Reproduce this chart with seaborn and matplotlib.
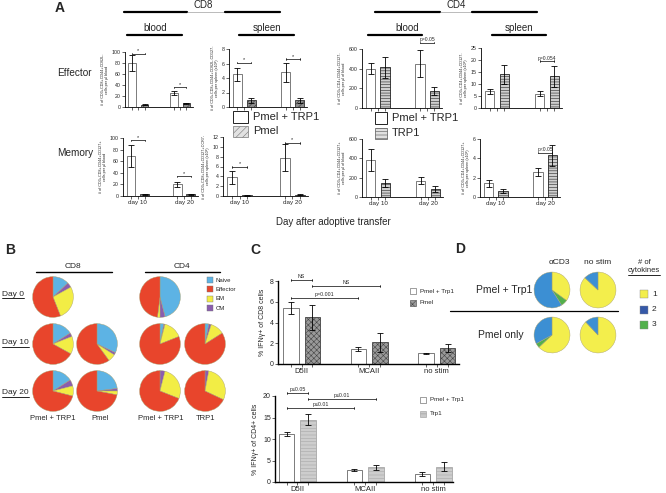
import numpy as np
import pandas as pd
import matplotlib
matplotlib.use('Agg')
import matplotlib.pyplot as plt
import seaborn as sns
from matplotlib.patches import Rectangle
from matplotlib.lines import Line2D

sns.set_style('ticks')
plt.rcParams['font.family'] = ['Liberation Sans', 'DejaVu Sans']
plt.rcParams['hatch.linewidth'] = 0.4

W, H = 666, 493
fig = plt.figure(figsize=(W / 100, H / 100), dpi=100)

# ---------------- data ----------------
days = ['day 10', 'day 20']
cd8_groups = ['Pmel + TRP1', 'Pmel']
cd4_groups = ['Pmel + TRP1', 'TRP1']

cd8_blood_eff = [80, 4, 26, 7]
cd8_blood_eff_err = [14, 1, 4, 1]
cd8_spleen_eff = [4.5, 0.9, 4.8, 0.9]
cd8_spleen_eff_err = [0.9, 0.4, 1.3, 0.3]
cd4_blood_eff = [400, 415, 450, 170]
cd4_blood_eff_err = [55, 105, 135, 40]
cd4_spleen_eff = [7, 14, 6, 13.2]
cd4_spleen_eff_err = [1, 3.8, 1, 4.3]

cd8_blood_mem = [69, 3, 20, 3]
cd8_blood_mem_err = [19, 1, 5, 1]
cd8_spleen_mem = [3.8, 0.2, 7.8, 0.3]
cd8_spleen_mem_err = [1.3, 0.1, 2.8, 0.1]
cd4_blood_mem = [380, 145, 170, 80]
cd4_blood_mem_err = [115, 40, 40, 30]
cd4_spleen_mem = [1.4, 0.6, 2.6, 4.3]
cd4_spleen_mem_err = [0.4, 0.2, 0.4, 1.1]

stims = ['D5II', 'MCAII', 'no stim']
c_cd8_groups = ['Pmel + Trp1', 'Pmel']
c_cd4_groups = ['Pmel + Trp1', 'Trp1']
ifng_cd8 = [5.4, 4.5, 1.45, 2.1, 1.05, 1.55]
ifng_cd8_err = [0.6, 1.2, 0.2, 0.9, 0.05, 0.4]
ifng_cd4 = [11.1, 14.5, 2.8, 3.4, 1.9, 3.6]
ifng_cd4_err = [0.5, 1.3, 0.3, 0.5, 0.4, 1.0]

subset_names = ['Naive', 'CM', 'EM', 'Effector']  # clockwise order from top
cd8_day0 = [13, 4, 27, 56]
cd4_day0 = [46, 4, 2, 48]
cd8_d10_pt = [16, 3, 14, 67]
cd8_d10_pmel = [32, 2, 6, 60]
cd4_d10_pt = [3, 1, 15, 81]
cd4_d10_trp1 = [3, 2, 11, 84]
cd8_d20_pt = [16, 5, 8, 71]
cd8_d20_pmel = [23, 2, 3, 72]
cd4_d20_pt = [0, 4, 27, 69]
cd4_d20_trp1 = [0, 3, 29, 68]

cytokine_names = ['1', '3', '2']  # clockwise order from top
d_pt_acd3 = [35, 6, 59]
d_pt_nostim = [87, 0, 13]
d_pmel_acd3 = [63, 4, 33]
d_pmel_nostim = [88, 0, 12]

# ---------------- helpers ----------------
def px_axes(l, t, r, b):
    return fig.add_axes([l / W, 1 - b / H, (r - l) / W, (b - t) / H])

def ftext(x, y, s, **kw):
    kw.setdefault('va', 'center')
    return fig.text(x / W, 1 - y / H, s, **kw)

def fline(x1, x2, y, lw=1.5, color='k'):
    fig.add_artist(Line2D([x1 / W, x2 / W], [1 - y / H] * 2, lw=lw, color=color,
                          transform=fig.transFigure))

def frect(x, y, w, h, fc, ec='k', lw=0.5, hatch=None):
    fig.add_artist(Rectangle((x / W, 1 - (y + h) / H), w / W, h / H,
                             transform=fig.transFigure, fc=fc, ec=ec, lw=lw, hatch=hatch))

underlined = []

white = dict(fc='white', ec='#666666', hatch=None)
pmel_a = dict(fc='#8c8c8c', ec='#333333', hatch='//////')
trp1_a = dict(fc='#cfcfcf', ec='#222222', hatch='------')
pmel_c = dict(fc='#9a9a9a', ec='#444444', hatch='xxxxxx')
trp1_c = dict(fc='#cdcdcd', ec='#a8a8a8', hatch='-----')


def draw_bars(ax, cats, groups, means, errs, styles, width, gap, xlim, ymax, yticks,
              labels_on, tfs, lfs, cap=2, axlw=0.6):
    n = len(cats)
    df = pd.DataFrame({'cat': np.repeat(cats, len(groups)),
                       'grp': list(groups) * n, 'val': means})
    sns.barplot(data=df, x='cat', y='val', hue='grp', order=cats, hue_order=groups,
                palette={g: 'white' for g in groups}, width=width, gap=gap,
                errorbar=None, legend=False, ax=ax)
    patches = sorted(ax.patches, key=lambda p: p.get_x())
    centers = []
    for i, p in enumerate(patches):
        st = styles[i % len(groups)]
        p.set_facecolor(st['fc'])
        p.set_edgecolor(st['ec'])
        p.set_hatch(st['hatch'])
        p.set_linewidth(0.6)
        cx = p.get_x() + p.get_width() / 2
        centers.append(cx)
        ax.errorbar(cx, means[i], yerr=errs[i], fmt='none', ecolor='k',
                    elinewidth=0.6, capsize=cap, capthick=0.6, zorder=5)
    ax.set_xlim(*xlim)
    ax.set_ylim(0, ymax)
    ax.set_yticks(yticks)
    ax.set_xticks(range(n))
    ax.set_xticklabels(cats if labels_on else [''] * n, fontsize=lfs)
    ax.set_xticks(centers, minor=True)
    ax.set_xlabel('')
    ax.set_ylabel('')
    for s in ['top', 'right']:
        ax.spines[s].set_visible(False)
    for s in ['left', 'bottom']:
        ax.spines[s].set_linewidth(axlw)
        ax.spines[s].set_color('k')
    ax.tick_params(axis='y', labelsize=tfs, length=2, width=0.5, pad=1)
    ax.tick_params(axis='x', which='both', length=2, width=0.5, pad=1)
    ax.patch.set_alpha(0)
    return centers


def bracket(ax, x1, x2, y, txt, fs, tick):
    ax.plot([x1, x2], [y, y], color='k', lw=0.5, clip_on=False)
    ax.plot([x1, x1], [y - tick, y + tick], color='k', lw=0.5, clip_on=False)
    ax.plot([x2, x2], [y - tick, y + tick], color='k', lw=0.5, clip_on=False)
    ax.text((x1 + x2) / 2, y + tick * 0.8, txt, ha='center', va='bottom', fontsize=fs,
            clip_on=False)

# ---------------- Panel A ----------------
A_XLIM = (-0.32, 1.3)
A_W, A_G = 0.58, 0.35
off = A_W / 4
ylab_fs = 2.7

panelA = [
    # (l, t, r, b, means, errs, groups, style2, ymax, ticks, labels, ylabel, sig)
    (125, 52, 193, 107, cd8_blood_eff, cd8_blood_eff_err, cd8_groups, pmel_a, 100,
     [0, 20, 40, 60, 80, 100], False,
     '# of CD3+CD8+CD44+CD62L-\ncells per µl blood', [(0, 97, '*'), (1, 36, '*')]),
    (229, 49, 307, 107, cd8_spleen_eff, cd8_spleen_eff_err, cd8_groups, pmel_a, 8,
     [0, 2, 4, 6, 8], False,
     '# of CD3+CD8+CD44+CD62L-CD127-\ncells per spleen (x10⁴)', [(0, 6.1, '*'), (1, 6.6, '*')]),
    (362, 49, 442, 108, cd4_blood_eff, cd4_blood_eff_err, cd4_groups, trp1_a, 600,
     [0, 200, 400, 600], False,
     '# of CD3+CD4+CD44+CD127-\ncells per µl of blood', [(1, 665, 'p=0.05')]),
    (481, 48, 562, 108, cd4_spleen_eff, cd4_spleen_eff_err, cd4_groups, trp1_a, 25,
     [0, 5, 10, 15, 20, 25], False,
     '# of CD3+CD4+CD44+CD127-\ncells per spleen (x10⁴)', [(1, 19.5, 'p=0.054')]),
    (123, 138, 198, 196, cd8_blood_mem, cd8_blood_mem_err, cd8_groups, pmel_a, 100,
     [0, 20, 40, 60, 80, 100], True,
     '# of CD3+CD8+CD44+CD127+\ncells per µl blood', [(0, 96, '*'), (1, 34, '*')]),
    (223, 137, 308, 196, cd8_spleen_mem, cd8_spleen_mem_err, cd8_groups, pmel_a, 12,
     [0, 2, 4, 6, 8, 10, 12], True,
     '# of CD3+CD8+CD44+CD127+CCR7-\ncells per spleen (x10⁴)', [(0, 5.9, '*'), (1, 10.8, '*')]),
    (362, 139, 443, 197, cd4_blood_mem, cd4_blood_mem_err, cd4_groups, trp1_a, 600,
     [0, 200, 400, 600], True,
     '# of CD3+CD4+CD44+CD127+\ncells per µl of blood', []),
    (480, 139, 560, 197, cd4_spleen_mem, cd4_spleen_mem_err, cd4_groups, trp1_a, 6,
     [0, 2, 4, 6], True,
     '# of CD3+CD4+CD44+CD127+\ncells per spleen (x10⁴)', [(1, 4.6, 'p<0.05')]),
]

for (l, t, r, b, m, e, grps, st2, ymax, ticks, lab, ylab, sig) in panelA:
    ax = px_axes(l, t, r, b)
    draw_bars(ax, days, grps, m, e, [white, st2], A_W, A_G, A_XLIM, ymax, ticks,
              lab, 3.8, 4.5)
    ax.set_ylabel(ylab, fontsize=ylab_fs, labelpad=2, linespacing=1.1)
    for gi, yv, txt in sig:
        bracket(ax, gi - off, gi + off, yv, txt, 4 if txt == '*' else 3.6, ymax * 0.012)

ftext(55, 8, 'A', fontsize=10, fontweight='bold', ha='left')
ftext(203, 5, 'CD8', fontsize=7, ha='center')
fline(124, 187, 12, 1.6)
fline(187, 225, 12, 0.4, '#888888')
fline(225, 280, 12, 1.6)
ftext(456, 5, 'CD4', fontsize=7, ha='center')
fline(375, 440, 12, 1.6)
fline(440, 472, 12, 0.4, '#888888')
fline(472, 537, 12, 1.6)
ftext(155, 28, 'blood', fontsize=7, ha='center')
fline(127, 182, 35, 1.6)
ftext(267, 28, 'spleen', fontsize=7, ha='center')
fline(239, 294, 35, 1.6)
ftext(407, 28, 'blood', fontsize=7, ha='center')
fline(368, 422, 35, 1.6)
ftext(519, 28, 'spleen', fontsize=7, ha='center')
fline(492, 546, 35, 1.6)
ftext(57, 73, 'Effector', fontsize=7.2, ha='left')
ftext(57, 153, 'Memory', fontsize=7.2, ha='left')
ftext(333, 222, 'Day after adoptive transfer', fontsize=7, ha='center')

# legends A
frect(233, 111, 15, 12, 'white', '#222222', 0.7)
ftext(253, 117, cd8_groups[0], fontsize=8, ha='left')
frect(233, 126, 15, 11, '#e2e2e2', '#777777', 0.5, '/////')
ftext(253, 131.5, cd8_groups[1], fontsize=8, ha='left')
frect(375, 112, 12, 12, 'white', '#222222', 0.7)
ftext(392, 118, cd4_groups[0], fontsize=8, ha='left')
frect(375, 128, 12, 11, '#e0e0e0', '#555555', 0.5, '-----')
ftext(392, 133.5, cd4_groups[1], fontsize=8, ha='left')

# ---------------- Panel B ----------------
b_colors = {'Naive': '#5DB3E4', 'Effector': '#E8452C', 'EM': '#F2ED45', 'CM': '#8B5DAE'}

def pie_at(cx, cy, r, vals, names, cmap):
    ax = px_axes(cx - r, cy - r, cx + r, cy + r)
    ax.pie(vals, colors=[cmap[n] for n in names], startangle=90, counterclock=False,
           wedgeprops=dict(edgecolor='#a8a070', linewidth=0.3))
    ax.set_xlim(-1.03, 1.03)
    ax.set_ylim(-1.03, 1.03)
    ax.set_aspect('equal')
    ax.axis('off')

ftext(5, 250, 'B', fontsize=10, fontweight='bold', ha='left')
ftext(73, 266, 'CD8', fontsize=6, ha='center')
fline(36, 112, 272, 1.0)
ftext(182, 266, 'CD4', fontsize=6, ha='center')
fline(145, 220, 272, 1.0)

r_b = 21
pie_at(53, 297, r_b, cd8_day0, subset_names, b_colors)
pie_at(160, 297, r_b, cd4_day0, subset_names, b_colors)
pie_at(53, 344, r_b, cd8_d10_pt, subset_names, b_colors)
pie_at(97, 344, r_b, cd8_d10_pmel, subset_names, b_colors)
pie_at(160, 344, r_b, cd4_d10_pt, subset_names, b_colors)
pie_at(205, 344, r_b, cd4_d10_trp1, subset_names, b_colors)
pie_at(53, 391, r_b, cd8_d20_pt, subset_names, b_colors)
pie_at(97, 391, r_b, cd8_d20_pmel, subset_names, b_colors)
pie_at(160, 391, r_b, cd4_d20_pt, subset_names, b_colors)
pie_at(205, 391, r_b, cd4_d20_trp1, subset_names, b_colors)

underlined.append(ftext(2, 294, 'Day 0', fontsize=6, ha='left'))
underlined.append(ftext(2, 343, 'Day 10', fontsize=6, ha='left'))
underlined.append(ftext(2, 393, 'Day 20', fontsize=6, ha='left'))
ftext(53, 419, 'Pmel + TRP1', fontsize=5.5, ha='center')
ftext(100, 419, 'Pmel', fontsize=5.5, ha='center')
ftext(161, 419, 'Pmel + TRP1', fontsize=5.5, ha='center')
ftext(206, 419, 'TRP1', fontsize=5.5, ha='center')

for i, nm in enumerate(['Naive', 'Effector', 'EM', 'CM']):
    y = 280 + i * 9.4
    frect(207, y - 3, 6, 6, b_colors[nm], '#777777', 0.3)
    ftext(216, y, nm, fontsize=4.3, ha='left')

# ---------------- Panel C ----------------
ftext(250, 250, 'C', fontsize=10, fontweight='bold', ha='left')
C_W, C_G = 0.64, 0.28
coff = C_W / 4

axc1 = px_axes(278, 281, 459, 364)
draw_bars(axc1, stims, c_cd8_groups, ifng_cd8, ifng_cd8_err, [white, pmel_c], C_W, C_G,
          (-0.35, 2.33), 8, [0, 2, 4, 6, 8], True, 5, 5.5, cap=2.5, axlw=1.0)
axc1.set_ylabel('% IFNγ+ of CD8 cells', fontsize=5, labelpad=3)
for (c1, h1, c2, h2, yv, txt) in [(0, 0, 0, 1, 8.1, 'NS'), (0, 1, 1, 1, 7.5, 'NS'),
                                   (0, 0, 1, 0, 6.35, 'p=0.001')]:
    bracket(axc1, c1 + (2 * h1 - 1) * coff, c2 + (2 * h2 - 1) * coff, yv, txt, 3.8, 0.12)

axc2 = px_axes(275, 396, 453, 482)
draw_bars(axc2, stims, c_cd4_groups, ifng_cd4, ifng_cd4_err, [white, trp1_c], C_W, C_G,
          (-0.33, 2.29), 20, [0, 5, 10, 15, 20], True, 5, 5.5, cap=2.5, axlw=1.0)
axc2.set_ylabel('% IFNγ+ of CD4+ cells', fontsize=5, labelpad=3)
for (c1, h1, c2, h2, yv, txt) in [(0, 0, 0, 1, 20.7, 'p≤0.05'), (0, 1, 1, 1, 19.3, 'p≤0.01'),
                                   (0, 0, 1, 0, 17.2, 'p≤0.01')]:
    bracket(axc2, c1 + (2 * h1 - 1) * coff, c2 + (2 * h2 - 1) * coff, yv, txt, 3.8, 0.3)

frect(410, 288, 6, 6, 'white', '#555555', 0.4)
ftext(420, 291, c_cd8_groups[0], fontsize=4.5, ha='left')
frect(410, 300, 6, 6, '#9a9a9a', '#444444', 0.4, 'xxxx')
ftext(420, 303, c_cd8_groups[1], fontsize=4.5, ha='left')
frect(420, 397, 6, 6, 'white', '#555555', 0.4)
ftext(430, 400, c_cd4_groups[0], fontsize=4.5, ha='left')
frect(420, 411, 6, 6, '#c8c8c8', '#999999', 0.4, '---')
ftext(430, 414, c_cd4_groups[1], fontsize=4.5, ha='left')

# ---------------- Panel D ----------------
d_colors = {'1': '#F3EE4C', '2': '#3C8FD3', '3': '#52B04C'}
ftext(455, 249, 'D', fontsize=10, fontweight='bold', ha='left')
ftext(559, 263, 'αCD3', fontsize=6, ha='center')
ftext(598, 263, 'no stim', fontsize=6, ha='center')
ftext(476, 290, 'Pmel + Trp1', fontsize=7.5, ha='left')
ftext(478, 335, 'Pmel only', fontsize=7.5, ha='left')
fline(450, 618, 311, 0.9)
r_d = 18.5
pie_at(552, 290, r_d, d_pt_acd3, cytokine_names, d_colors)
pie_at(598, 290, r_d, d_pt_nostim, cytokine_names, d_colors)
pie_at(552, 335, r_d, d_pmel_acd3, cytokine_names, d_colors)
pie_at(598, 335, r_d, d_pmel_nostim, cytokine_names, d_colors)

ftext(644, 262, '# of', fontsize=5.5, ha='center')
underlined.append(ftext(644, 271, 'cytokines', fontsize=5.5, ha='center'))
for i, (nm, col) in enumerate([('1', '#F3EE4C'), ('2', '#3559A8'), ('3', '#52B04C')]):
    y = 294 + i * 15.5
    frect(640, y - 4, 8, 8, col, '#888888', 0.3)
    ftext(652, y, nm, fontsize=6, ha='left')

# underline helper
fig.canvas.draw()
for t in underlined:
    bb = t.get_window_extent()
    yb = bb.y0 - 0.5
    fig.add_artist(Line2D([bb.x0 / W, bb.x1 / W], [yb / H, yb / H], lw=0.6, color='k',
                          transform=fig.transFigure))

fig.savefig('out.png', dpi=100)
